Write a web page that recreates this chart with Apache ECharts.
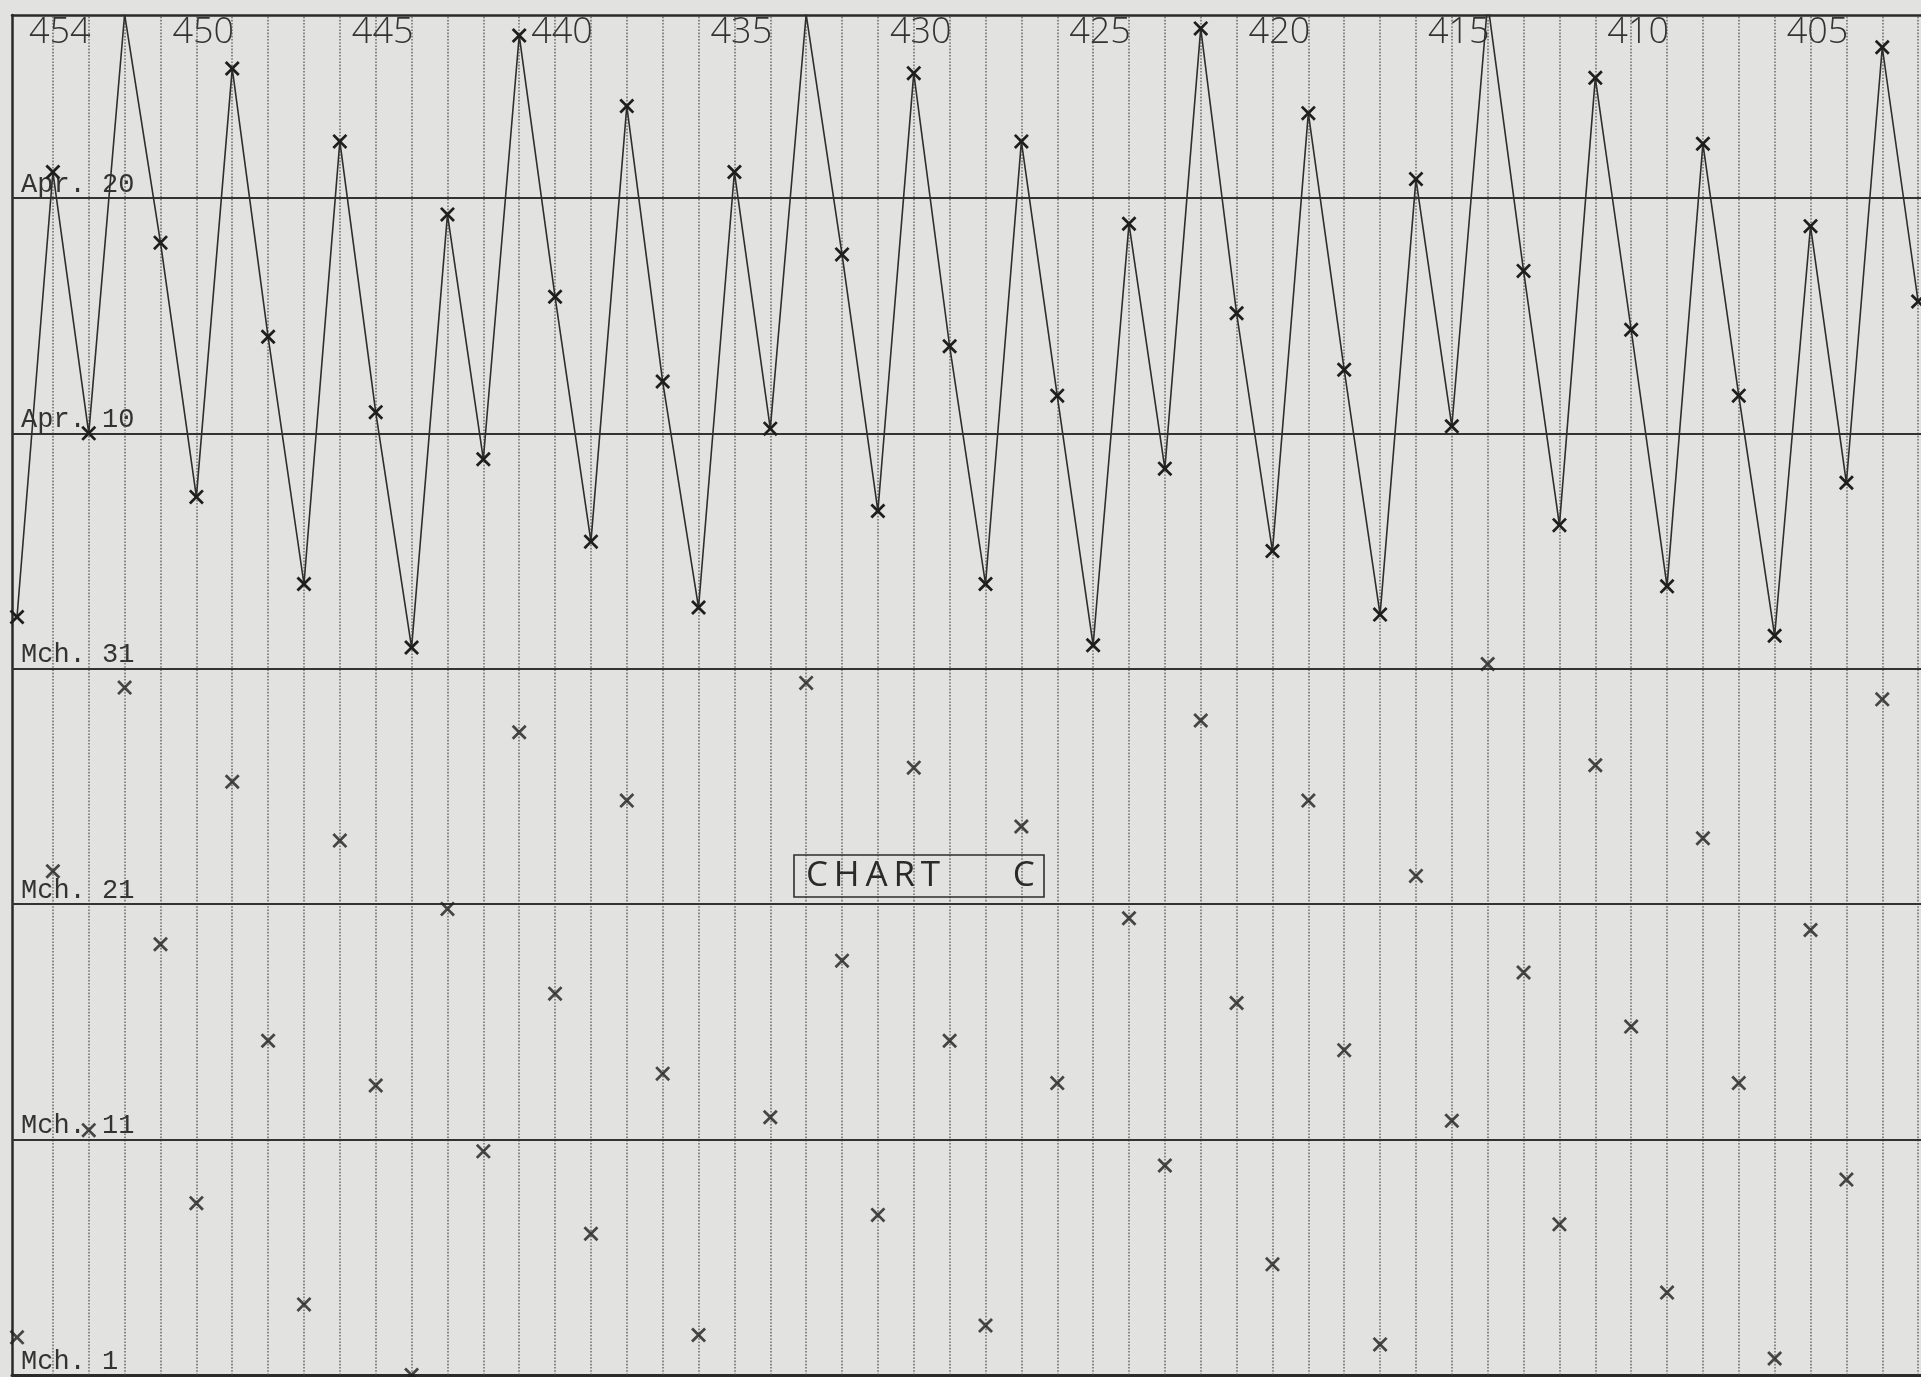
<!DOCTYPE html>
<html>
<head>
<meta charset="utf-8">
<script src="https://cdn.jsdelivr.net/npm/echarts@6/dist/echarts.min.js"></script>
<style>
html,body{margin:0;padding:0;background:#e2e2e0;}
#c{width:1921px;height:1377px;}
</style>
</head>
<body>
<div id="c"></div>
<script>
// Years (B.C.), left to right
const years = [454,453,452,451,450,449,448,447,446,445,444,443,442,441,440,439,438,437,436,435,
               434,433,432,431,430,429,428,427,426,425,424,423,422,421,420,419,418,417,416,415,
               414,413,412,411,410,409,408,407,406,405,404,403,402,401];
// Day counted from March 0 (Mch. 1 = 1, Mch. 31 = 31, Apr. 10 = 41, Apr. 20 = 51)
const upperDays = [33.2,52.1,41.0,58.8,49.1,38.3,56.5,45.1,34.6,53.4,
                   41.9,31.9,50.3,39.9,57.9,46.8,36.4,54.9,43.2,33.6,
                   52.1,41.2,58.8,48.6,37.7,56.3,44.7,34.6,53.4,42.6,
                   32.0,49.9,39.5,58.2,46.1,36.0,54.6,43.7,33.3,51.8,
                   41.3,59.3,47.9,37.1,56.1,45.4,34.5,53.3,42.6,32.4,
                   49.8,38.9,57.4,46.6];
const lowerDays = [2.6,22.4,11.4,30.2,19.3,8.3,26.2,15.2,4.0,23.7,
                   13.3,1.0,20.8,10.5,28.3,17.2,7.0,25.4,13.8,2.7,
                   null,11.95,30.4,18.6,7.8,26.8,15.2,3.1,24.3,13.4,
                   null,20.4,9.9,28.8,16.8,5.7,25.4,14.8,2.3,22.2,
                   11.8,31.2,18.1,7.4,26.9,15.8,4.5,23.8,13.4,1.7,
                   19.9,9.3,29.7,null];
const yearLabels = [454,450,445,440,435,430,425,420,415,410,405];
const dateTicks = [1,11,21,31,41,51];
const dateLabels = ['Mch. 1','Mch. 11','Mch. 21','Mch. 31','Apr. 10','Apr. 20'];
const chartTitle = 'C\u2009H\u2009A\u2009R\u2009T        C';

const X_SYMBOL = 'path://M0,1.3L1.3,0L5,3.7L8.7,0L10,1.3L6.3,5L10,8.7L8.7,10L5,6.3L1.3,10L0,8.7L3.7,5Z';
const ink = '#2a2a2a';

const chart = echarts.init(document.getElementById('c'), null, {renderer: 'canvas'});

const vLines = years.filter(y => y !== years[0]).map(y => ({
  xAxis: y,
  lineStyle: {type: 'dotted', width: 1.6, color: '#4c4c4c', opacity: 0.75}
}));
const hLines = dateTicks.filter(d => d !== dateTicks[0]).map(d => ({
  yAxis: d,
  lineStyle: {type: 'solid', width: 2, color: '#333'}
}));

const option = {
  backgroundColor: '#e2e2e0',
  animation: false,
  title: {
    text: chartTitle,
    left: 794, top: 855,
    padding: [3, 9, 3, 12],
    borderWidth: 1.6, borderColor: '#2e2e2e',
    textStyle: {fontFamily: 'Open Sans', fontWeight: 400, fontSize: 35, lineHeight: 36, color: '#2a2a2a'}
  },
  grid: {left: 12, right: 0, top: 15, bottom: 2},
  xAxis: [
    {
      type: 'value', position: 'top', min: 400.92, max: 454.14, inverse: true,
      axisLine: {show: true, onZero: false, lineStyle: {color: ink, width: 2.5}},
      axisTick: {show: false},
      splitLine: {show: false},
      axisLabel: {
        inside: true, customValues: yearLabels, align: 'left', verticalAlign: 'top',
        margin: 0, padding: [0, 0, 0, 12],
        fontFamily: 'Open Sans', fontWeight: 300, fontSize: 36, color: '#333'
      }
    },
    {
      type: 'value', position: 'bottom', min: 400.92, max: 454.14, inverse: true,
      axisLine: {show: true, onZero: false, lineStyle: {color: ink, width: 3}},
      axisTick: {show: false}, axisLabel: {show: false}, splitLine: {show: false}
    }
  ],
  yAxis: {
    type: 'value', min: 1, max: 58.77,
    axisLine: {show: true, onZero: false, lineStyle: {color: ink, width: 2.5}},
    axisTick: {show: false},
    splitLine: {show: false},
    axisLabel: {
      inside: true, customValues: dateTicks,
      formatter: v => { const i = dateTicks.indexOf(v); return i >= 0 ? dateLabels[i] : ''; },
      align: 'left', verticalAlign: 'bottom', margin: 9,
      fontFamily: 'Liberation Mono', fontSize: 27, color: '#333'
    }
  },
  series: [
    {
      type: 'line', name: 'upper', xAxisIndex: 0,
      data: years.map((y, i) => [y, upperDays[i]]),
      symbol: X_SYMBOL, symbolSize: 15,
      lineStyle: {color: '#2e2e2e', width: 1.6},
      itemStyle: {color: '#1e1e1e'},
      z: 5,
      markLine: {
        silent: true, symbol: 'none', animation: false,
        label: {show: false}, emphasis: {disabled: true},
        data: vLines.concat(hLines)
      }
    },
    {
      type: 'scatter', name: 'lower', xAxisIndex: 0,
      data: years.map((y, i) => lowerDays[i] == null ? null : [y, lowerDays[i]]).filter(p => p),
      symbol: X_SYMBOL, symbolSize: 15,
      itemStyle: {color: '#1e1e1e'},
      z: 5
    }
  ]
};
chart.setOption(option);
</script>
</body>
</html>
